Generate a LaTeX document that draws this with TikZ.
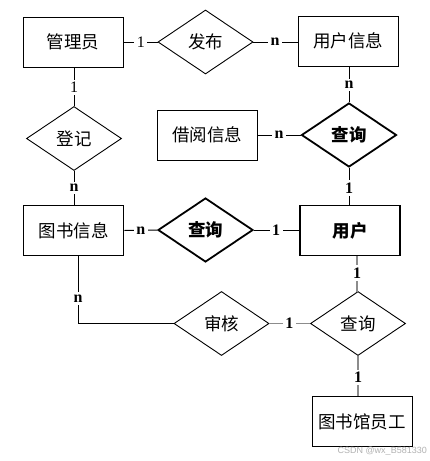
\documentclass[tikz,border=0pt]{standalone}
\usepackage{fontspec}
\setmainfont{Liberation Serif}
\newfontfamily\cjk{Noto Sans CJK SC}
\newfontfamily\wmfont{Liberation Sans}
\usetikzlibrary{shapes.geometric}
\begin{document}
\begin{tikzpicture}[x=1pt,y=-1pt,
  ent/.style={draw,line width=0.9pt,rectangle,minimum width=100pt,minimum height=50pt,inner sep=0pt,font=\cjk\fontsize{17.5}{20}\selectfont},
  entb/.style={ent,line width=1.8pt},
  rel/.style={draw,line width=0.9pt,diamond,aspect=1.5,minimum width=95pt,minimum height=64pt,inner sep=0pt,font=\cjk\fontsize{17.5}{20}\selectfont},
  relb/.style={rel,line width=1.8pt},
  conn/.style={draw,line width=1pt},
  gconn/.style={draw,line width=1.6pt,black!45},
  card/.style={fill=white,inner sep=2.5pt,font=\bfseries\fontsize{16}{18}\selectfont},
  cardr/.style={fill=white,inner sep=2.5pt,font=\fontsize{16}{18}\selectfont}
]
\useasboundingbox (0,0) rectangle (430,461);
\fill[white] (0,0) rectangle (430,461);

\node[ent] (gly) at (73,42) {管理员};
\node[rel] (fb) at (205.5,42) {发布};
\node[ent] (yhxx) at (348,41) {用户信息};
\node[rel] (dj) at (74,138.5) {登记};
\node[ent] (jyxx) at (207,135) {借阅信息};
\node[relb] (cx1) at (349,135) {\bfseries 查询};
\node[entb] (tsxx) at (73.5,230.5) {图书信息};
\node[relb] (cx2) at (205.5,230) {\bfseries 查询};
\node[entb] (yh) at (350,230.5) {\bfseries 用户};
\node[rel] (sh) at (221.5,323.5) {审核};
\node[rel] (cx3) at (358,323.5) {查询};
\node[ent] (tsgy) at (362,421.5) {图书馆员工};

\coordinate (tsb) at (78,256);
\coordinate (tsc) at (78,323.5);
\coordinate (yhb) at (357,256);
\coordinate (cx3t) at (357,292);

\draw[conn] (gly.east) -- node[cardr,pos=0.51] {1} (fb.west);
\draw[conn] (fb.east) -- node[card,pos=0.49] {n} (fb.east -| yhxx.west);
\draw[conn] (gly.south -| dj.north) -- node[cardr,pos=0.52] {1} (dj.north);
\draw[conn] (dj.south) -- node[card,pos=0.5] {n} (dj.south |- tsxx.north);
\draw[conn] (yhxx.south -| cx1.north) -- node[card,pos=0.52] {n} (cx1.north);
\draw[conn] (jyxx.east) -- node[card,pos=0.5] {n} (cx1.west);
\draw[conn] (cx1.south) -- node[card,pos=0.55] {1} (cx1.south |- yh.north);
\draw[conn] (tsxx.east) -- node[card,pos=0.5] {n} (cx2.west);
\draw[conn] (cx2.east) -- node[card,pos=0.49] {1} (cx2.east -| yh.west);
\draw[conn] (tsb) -- node[card,pos=0.63] {n} (tsc) -- (sh.west);
\draw[gconn] (sh.east) -- node[card,text=black,pos=0.49] {1} (cx3.west);
\draw[gconn] (yhb) -- node[card,text=black,pos=0.47] {1} (cx3t);
\draw[gconn] (cx3.south) -- node[card,text=black,pos=0.54] {1} (cx3.south |- tsgy.north);

\node[text=black!30,font=\wmfont\fontsize{9}{10}\selectfont,inner sep=0pt,anchor=east] (wm) at (427,451) {CSDN @wx\_B581330};
\end{tikzpicture}
\end{document}
